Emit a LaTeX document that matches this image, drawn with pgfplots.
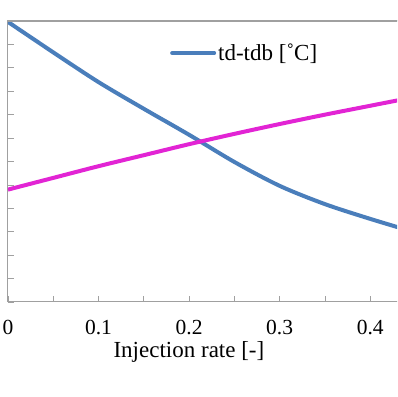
\documentclass[border=0pt]{standalone}
\usepackage{pgfplots}
\pgfplotsset{compat=1.18}
\usepackage{fontspec}
\setmainfont{Liberation Serif}
\definecolor{tdblue}{RGB}{74,126,187}
\definecolor{mag}{RGB}{226,36,212}
\definecolor{axgray}{RGB}{160,160,160}
\begin{document}
\begin{tikzpicture}
\useasboundingbox (0,0) rectangle (397pt,397pt);
\clip (0,0) rectangle (397pt,397pt);
\begin{axis}[
  name=ax,
  at={(8pt,95pt)}, anchor=south west, scale only axis,
  width=407.5pt, height=281pt,
  xmin=0, xmax=0.45, ymin=0, ymax=12,
  axis line style={draw=axgray, line width=1pt},
  xtick={0,0.1,0.2,0.3,0.4}, xticklabels={0,0.1,0.2,0.3,0.4},
  minor xtick={0.05,0.15,0.25,0.35},
  ytick={0,1,2,3,4,5,6,7,8,9,10,11,12}, yticklabels={},
  xtick pos=bottom, ytick pos=left,
  tick align=inside,
  major tick length=6pt, minor tick length=6pt,
  tick style={draw=axgray, line width=0.8pt},
  /pgf/number format/assume math mode=true,
  tick label style={font=\fontsize{21.5}{25}\selectfont},
  xticklabel style={yshift=-15pt},
  xlabel={Injection rate [-]},
  xlabel style={at={(axis description cs:0.444,-0.196)}, anchor=base, font=\fontsize{23}{27}\selectfont},
  legend style={draw=none, fill=none, at={(axis description cs:0.3975,0.886)}, anchor=west, inner sep=0pt, font=\fontsize{23}{27}\selectfont, nodes={inner sep=0pt}, /tikz/every odd column/.append style={column sep=2pt}},
  legend image code/.code={\draw[#1, line width=4pt, line cap=round] (0pt,0pt) -- (42pt,0pt);},
]
\addplot[color=tdblue, line width=4pt, smooth] coordinates {
(0,11.96) (0.05,10.66) (0.1,9.39) (0.15,8.25) (0.2,7.14) (0.25,5.98) (0.3,4.96) (0.35,4.18) (0.4,3.55) (0.45,2.97)
};
\addlegendentry{td-tdb [˚C]}
\addplot[color=mag, line width=4pt, smooth, forget plot] coordinates {
(0,4.80) (0.05,5.30) (0.1,5.80) (0.15,6.27) (0.2,6.74) (0.25,7.18) (0.3,7.60) (0.35,8.00) (0.4,8.38) (0.45,8.76)
};
\end{axis}
\draw[axgray, line width=1.2pt] (ax.north west) -- (ax.north east);
\end{tikzpicture}
\end{document}
